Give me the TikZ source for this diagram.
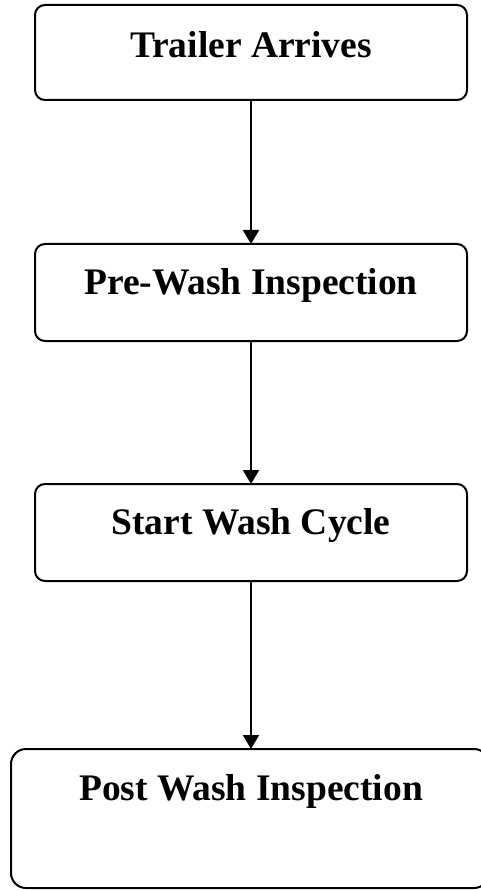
\documentclass[tikz,border=0pt]{standalone}
\usepackage{fontspec}
\setmainfont{Liberation Serif}
\usetikzlibrary{arrows.meta}
\begin{document}
\begin{tikzpicture}[x=1pt,y=-1pt,
  stepbox/.style={draw=black, line width=2pt, rounded corners=10pt, inner sep=0pt, outer sep=0pt},
  steptext/.style={anchor=base, inner sep=0pt, font=\fontsize{37.5}{44}\selectfont\bfseries},
  flow/.style={draw=black, line width=2pt, -{Triangle[width=16pt,length=14pt]}}]
\useasboundingbox (0,0) rectangle (481,890);
\node[stepbox, minimum width=432pt, minimum height=95pt] (b1) at (251,52.5) {};
\node[stepbox, minimum width=432pt, minimum height=97pt] (b2) at (251,292.5) {};
\node[stepbox, minimum width=432pt, minimum height=97pt] (b3) at (251,532.5) {};
\node[stepbox, rounded corners=15pt, minimum width=478pt, minimum height=139pt] (b4) at (250,818.5) {};
\node[steptext] (t1) at (251,58) {Trailer Arrives};
\node[steptext] (t2) at (251,294) {Pre-Wash Inspection};
\node[steptext] (t3) at (251,534) {Start Wash Cycle};
\node[steptext] (t4) at (251,800) {Post Wash Inspection};
\draw[flow] (b1.south) -- (b2.north);
\draw[flow] (b2.south) -- (b3.north);
\draw[flow] (b3.south) -- (b3.south |- b4.north);
\end{tikzpicture}
\end{document}
